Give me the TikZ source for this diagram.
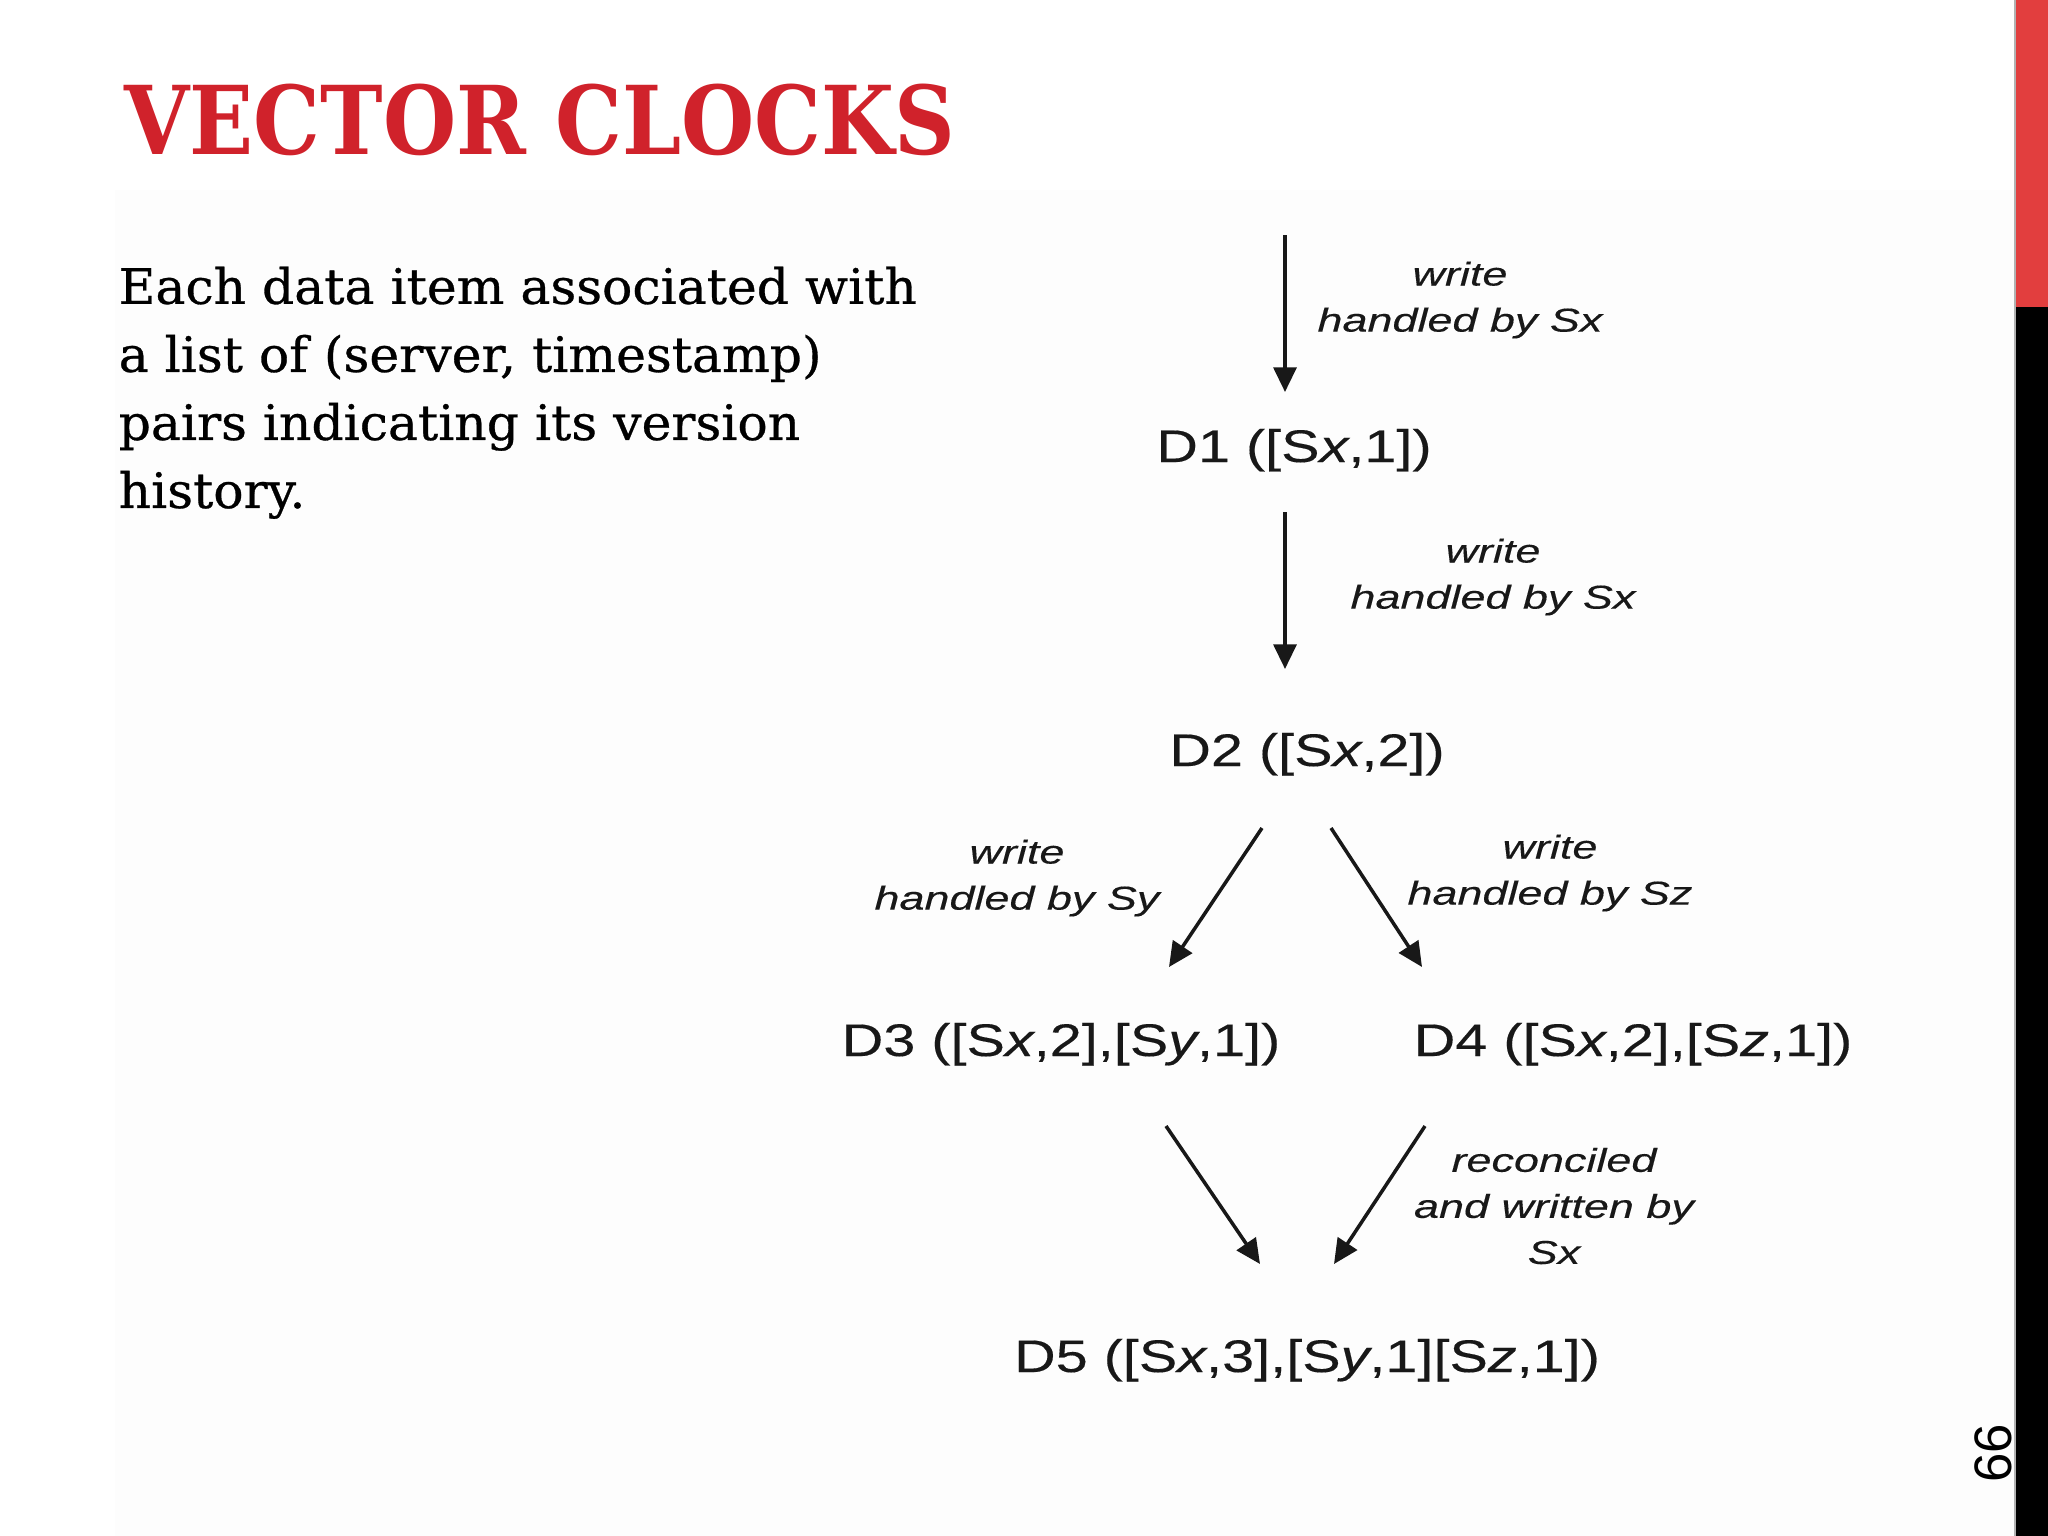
\documentclass[tikz,border=0pt]{standalone}
\usepackage{fontspec}
\setmainfont{DejaVu Serif}
\newfontfamily\titlefont[FakeStretch=0.885]{DejaVu Serif Bold}
\newfontfamily\bodyfont[FakeStretch=1.03,FakeBold=0.6]{DejaVu Serif}
\newfontfamily\diagfont[FakeStretch=1.26,FakeBold=0.3]{Liberation Sans}
\newfontfamily\lblfont[FakeStretch=1.36,FakeBold=0.3]{Liberation Sans}
\newfontfamily\numfont{Liberation Sans}
\usetikzlibrary{arrows.meta}
\definecolor{titlered}{RGB}{208,34,43}
\definecolor{barred}{RGB}{226,62,62}
\definecolor{inkgray}{RGB}{24,24,24}
\begin{document}
\begin{tikzpicture}[
    x=0.01cm, y=-0.01cm,
    version/.style={anchor=base, inner sep=0pt, text=inkgray, font=\diagfont\fontsize{13}{15}\selectfont},
    label/.style={align=center, inner sep=0pt, text=inkgray, font=\lblfont\itshape\fontsize{9.4}{13.1}\selectfont},
    flow/.style={-{Triangle[length=7pt,width=6.5pt]}, line width=1pt, inkgray}
]
\useasboundingbox (0,0) rectangle (2048,1536);

% Slide background and side bar
\fill[gray!1.5] (115,190) rectangle (2015,1536);
\fill[black] (2016,0) rectangle (2048,1536);
\fill[barred] (2016,0) rectangle (2048,307);
\draw[gray!60, line width=0.4pt] (2015,0) -- (2015,1536);

% Title and text
\node[anchor=base west, inner sep=0pt, text=titlered, font=\titlefont\fontsize{27}{30}\selectfont] (title) at (124,154) {VECTOR CLOCKS};
\node[anchor=north west, inner sep=0pt, align=left, font=\bodyfont\fontsize{13.9}{19.35}\selectfont] (body) at (118,266)
    {Each data item associated with\\a list of (server, timestamp)\\pairs indicating its version\\history.};
\node[rotate=90, inner sep=0pt, font=\numfont\fontsize{15}{16}\selectfont] (page) at (1993,1453) {66};

% Versions
\node[version] (d1) at (1294,462) {D1 ([S\textit{x},1])};
\node[version] (d2) at (1307,766) {D2 ([S\textit{x},2])};
\node[version] (d3) at (1061,1056) {D3 ([S\textit{x},2],[S\textit{y},1])};
\node[version] (d4) at (1633,1056) {D4 ([S\textit{x},2],[S\textit{z},1])};
\node[version] (d5) at (1307,1372) {D5 ([S\textit{x},3],[S\textit{y},1][S\textit{z},1])};

% Labels
\node[label] (w1) at (1460,300) {write\\handled by Sx};
\node[label] (w2) at (1493,577) {write\\handled by Sx};
\node[label] (w3) at (1017,878) {write\\handled by Sy};
\node[label] (w4) at (1550,873) {write\\handled by Sz};
\node[label] (rec) at (1554,1206) {reconciled\\and written by\\Sx};

% Arrows
\coordinate (start) at (1285,235);
\draw[flow] (start) -- ([shift={(-9,-70)}]d1.base);
\draw[flow] ([shift={(-9,50)}]d1.base) -- ([shift={(-22,-97)}]d2.base);
\draw[flow] ([shift={(-45,62)}]d2.base) -- ([shift={(108,-89)}]d3.base);
\draw[flow] ([shift={(24,62)}]d2.base) -- ([shift={(-211,-89)}]d4.base);
\draw[flow] ([shift={(105,70)}]d3.base) -- ([shift={(-47,-108)}]d5.base);
\draw[flow] ([shift={(-208,70)}]d4.base) -- ([shift={(27,-108)}]d5.base);

\end{tikzpicture}
\end{document}
